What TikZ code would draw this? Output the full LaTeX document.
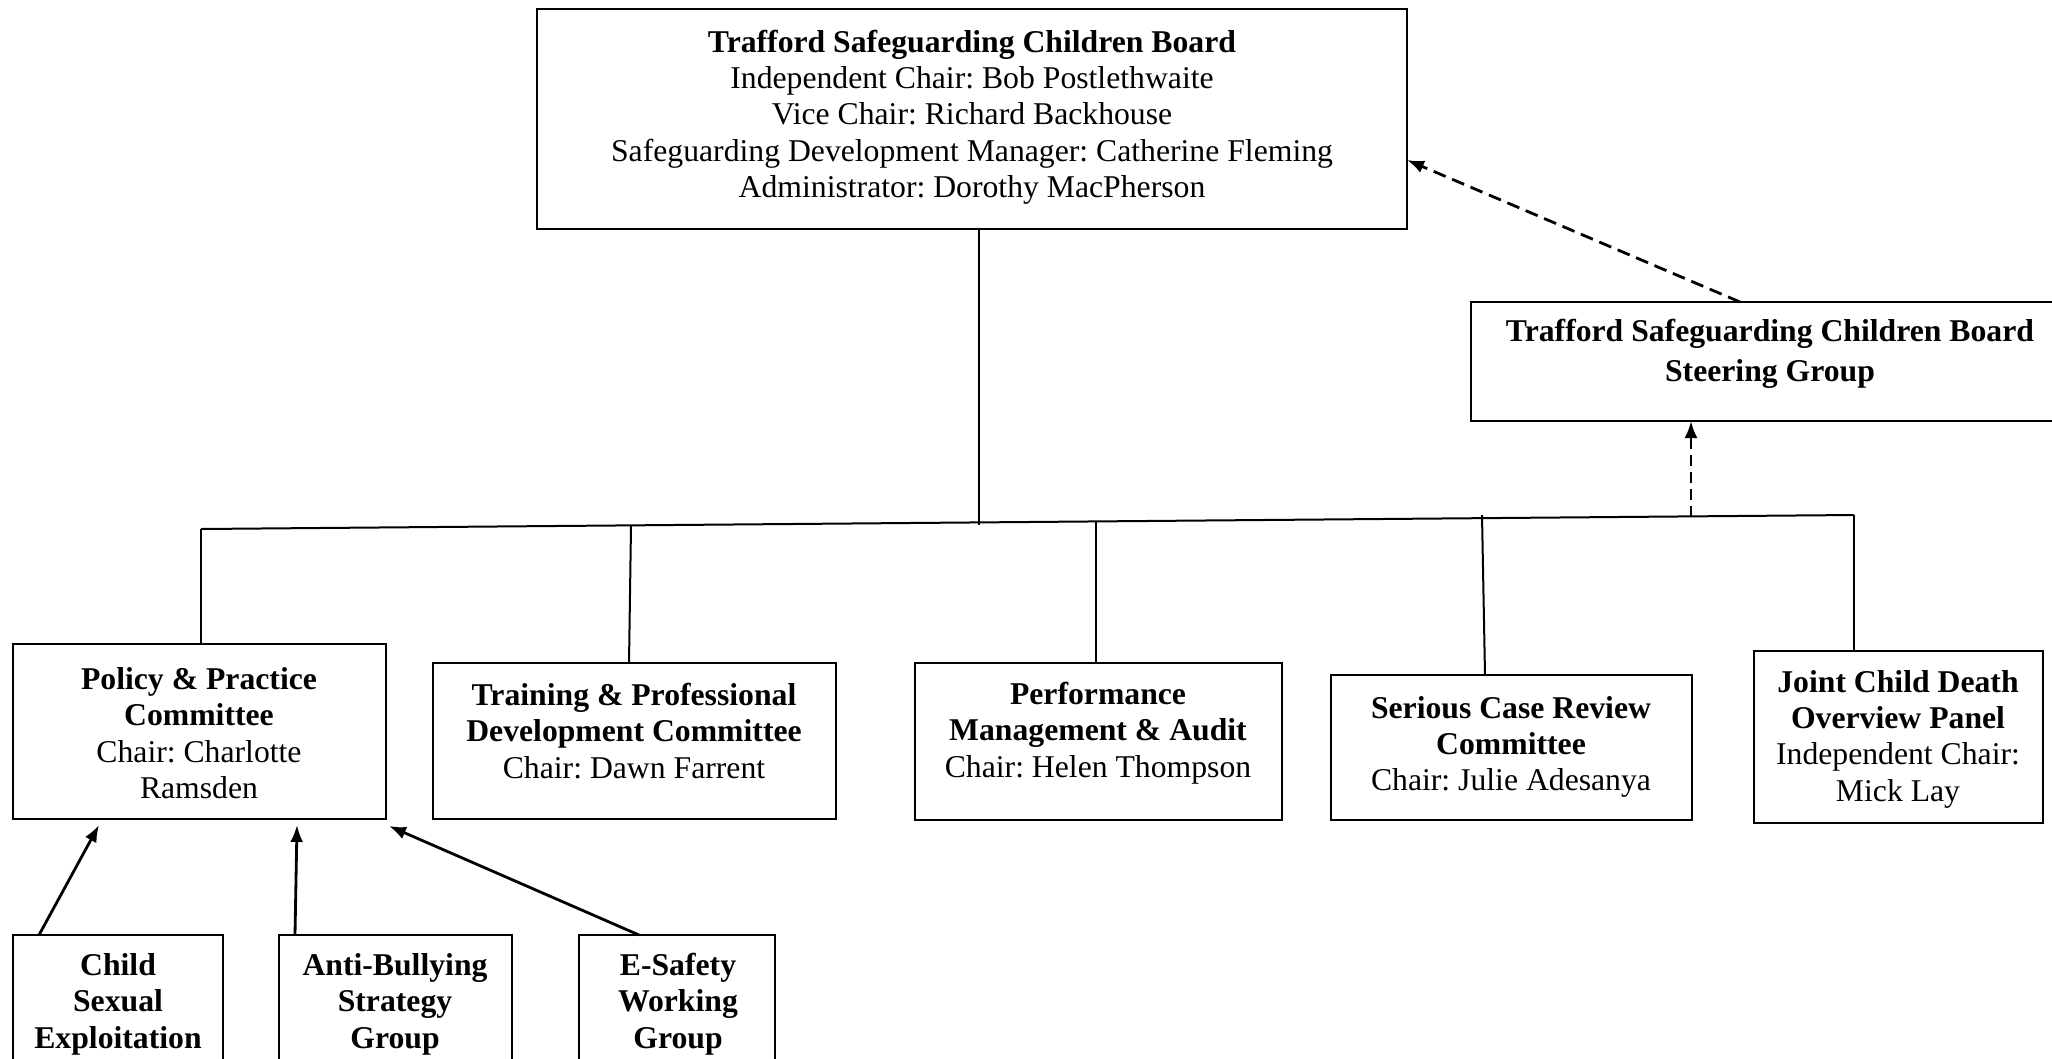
\documentclass[tikz,border=0pt]{standalone}
\usepackage{fontspec}
\setmainfont{Liberation Serif}
\usetikzlibrary{arrows.meta}
\frenchspacing
\tikzset{
  boxnode/.style={draw, line width=2.3pt, rectangle, inner sep=0pt, outer sep=0pt},
  txt/.style={align=center, inner sep=0pt, font=\fontsize{31.7}{36.3}\selectfont},
  conn/.style={line width=2pt},
  arr/.style={line width=2.8pt, -{Latex[length=17pt,width=13pt]}},
  darr/.style={line width=2.8pt, dash pattern=on 13pt off 7pt, -{Latex[length=17pt,width=13pt]}},
}
\begin{document}
\begin{tikzpicture}[x=1pt, y=-1pt]
\clip (0,0) rectangle (2052,1058);
\fill[white] (0,0) rectangle (2052,1058);

% boxes
\node[boxnode, minimum width=870pt, minimum height=220pt] (top) at (972,119) {};
\node[boxnode, minimum width=591pt, minimum height=119pt] (steer) at (1766.5,361.5) {};
\node[boxnode, minimum width=373pt, minimum height=175pt] (pol) at (199.5,731.5) {};
\node[boxnode, minimum width=403pt, minimum height=156pt] (tr) at (634.5,741) {};
\node[boxnode, minimum width=367pt, minimum height=157pt] (perf) at (1098.5,741.5) {};
\node[boxnode, minimum width=361pt, minimum height=145pt] (scr) at (1511.5,747.5) {};
\node[boxnode, minimum width=289pt, minimum height=172pt] (jcd) at (1898.5,737) {};
\node[boxnode, minimum width=210pt, minimum height=160pt] (cse) at (118,1015) {};
\node[boxnode, minimum width=233pt, minimum height=160pt] (ab) at (395.5,1015) {};
\node[boxnode, minimum width=196pt, minimum height=160pt] (es) at (677,1015) {};

% texts
\node[txt] (top-t) at (972,117) {\textbf{Trafford Safeguarding Children Board}\\Independent Chair: Bob Postlethwaite\\Vice Chair: Richard Backhouse\\Safeguarding Development Manager: Catherine Fleming\\Administrator: Dorothy MacPherson};
\node[txt, font=\fontsize{31.7}{36.3}\selectfont\bfseries] (steer-t) at (1770,354) {Trafford Safeguarding Children Board\\[3.5pt]Steering Group};
\node[txt] (pol-t) at (199,733) {\textbf{Policy \& Practice}\\\textbf{Committee}\\Chair: Charlotte\\Ramsden};
\node[txt] (tr-t) at (634,731) {\textbf{Training \& Professional}\\\textbf{Development Committee}\\Chair: Dawn Farrent};
\node[txt] (perf-t) at (1098,733) {\textbf{Performance}\\\textbf{Management \& Audit}\\Chair: Helen Thompson};
\node[txt] (scr-t) at (1511,747) {\textbf{Serious Case Review}\\\textbf{Committee}\\Chair: Julie Adesanya};
\node[txt] (jcd-t) at (1898,739) {\textbf{Joint Child Death}\\\textbf{Overview Panel}\\Independent Chair:\\Mick Lay};
\node[txt, font=\fontsize{31.7}{36.5}\selectfont\bfseries] (cse-t) at (118,1004) {Child\\Sexual\\Exploitation};
\node[txt, font=\fontsize{31.7}{36.5}\selectfont\bfseries] (ab-t) at (395,1004) {Anti-Bullying\\Strategy\\Group};
\node[txt, font=\fontsize{31.7}{36.5}\selectfont\bfseries] (es-t) at (678,1004) {E-Safety\\Working\\Group};

% bus and tree connectors
\coordinate (busL) at (201,529);
\coordinate (busR) at (1854,515);
\coordinate (bTop) at (979,525);
\coordinate (bTr) at (631,526);
\coordinate (bPf) at (1096,522);
\coordinate (bSc) at (1482,515);
\coordinate (bSt) at (1691,517);

\draw[conn] (busL) -- (busR);
\draw[conn] (top.south -| bTop) -- (bTop);
\draw[conn] (busL) -- (busL |- pol.north);
\draw[conn] (bTr) -- ([xshift=-5.5pt]tr.north);
\draw[conn] (bPf) -- (bPf |- perf.north);
\draw[conn] (bSc) -- ([xshift=-26.5pt]scr.north);
\draw[conn] (busR) -- (busR |- jcd.north);

% dashed reporting arrows
\draw[darr] ([xshift=-26.5pt]steer.north) -- ([yshift=-41pt]top.east);
\draw[line width=2.8pt, dash pattern=on 11pt off 6pt, -{Latex[length=17pt,width=13pt]}] (bSt) -- (bSt |- steer.south);

% sub-group arrows
\coordinate (pA) at (99,825);
\coordinate (pB) at (297,825);
\coordinate (pC) at (389,826);
\draw[arr] ([xshift=26pt]cse.north west) -- (pA);
\draw[arr] ([xshift=16pt]ab.north west) -- (pB);
\draw[arr] ([xshift=60pt]es.north west) -- (pC);
\end{tikzpicture}
\end{document}
